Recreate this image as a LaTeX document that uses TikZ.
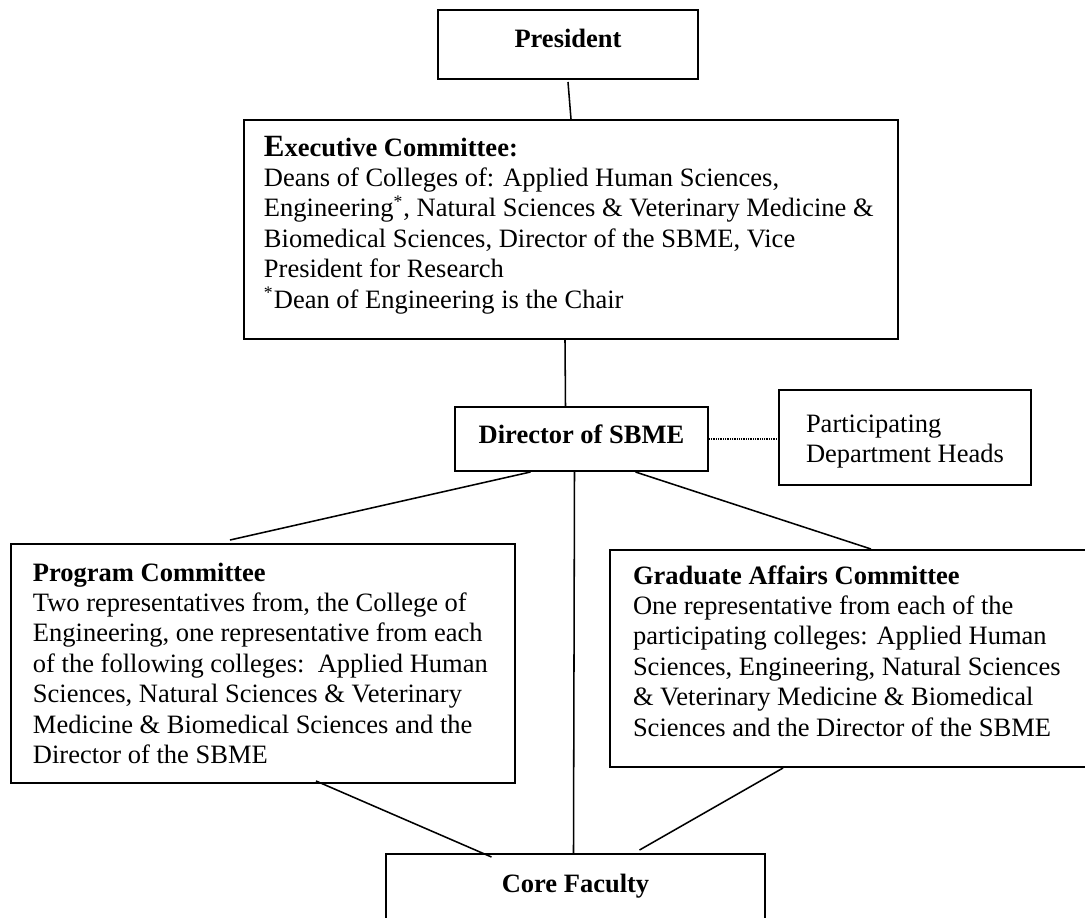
\documentclass[tikz,border=0pt]{standalone}
\usepackage{fontspec}
\setmainfont{Liberation Serif}
\usetikzlibrary{calc}
\newlength\pxu
\setlength\pxu{0.45283pt}

\begin{document}
\begin{tikzpicture}[
    x=0.45283pt, y=-0.45283pt,
    font=\fontsize{12}{13.8}\selectfont,
    box/.style={draw, line width=0.9pt, inner sep=0pt, anchor=north west},
    link/.style={line width=0.7pt},
    dotlink/.style={line width=0.6pt, dash pattern=on 0.4pt off 0.4pt}
]
\useasboundingbox (0,0) rectangle (1085,917);

% Boxes
\node[box] (pres) at (437,9) {\parbox[c][69\pxu][t]{260\pxu}{\centering\rule{0pt}{38\pxu}\textbf{President}}};

\node[box] (exec) at (243,119) {\parbox[c][219\pxu][t]{654\pxu}{\leftskip=20\pxu
  \rule{0pt}{36\pxu}\textbf{{\fontsize{14}{16}\selectfont E}xecutive Committee:}\\
  Deans of Colleges of: Applied Human Sciences,\\
  Engineering\textsuperscript{*}, Natural Sciences \& Veterinary Medicine \&\\
  Biomedical Sciences, Director of the SBME, Vice\\
  President for Research\\
  \textsuperscript{*}Dean of Engineering is the Chair}};

\node[box] (dir) at (454,406) {\parbox[c][64\pxu][t]{253\pxu}{\centering\rule{0pt}{36\pxu}\textbf{Director of SBME}}};

\node[box] (heads) at (778,389) {\parbox[c][95\pxu][t]{252\pxu}{\leftskip=27\pxu
  \rule{0pt}{42\pxu}Participating\\
  Department Heads}};

\node[box] (prog) at (10,543) {\parbox[c][239\pxu][t]{504\pxu}{\leftskip=22\pxu
  \rule{0pt}{37\pxu}\textbf{Program Committee}\\
  Two representatives from, the College of\\
  Engineering, one representative from each\\
  of the following colleges:\ \ Applied Human\\
  Sciences, Natural Sciences \& Veterinary\\
  Medicine \& Biomedical Sciences and the\\
  Director of the SBME}};

\node[box] (grad) at (609,549) {\parbox[c][217\pxu][t]{482\pxu}{\leftskip=23\pxu
  \rule{0pt}{34\pxu}\textbf{Graduate Affairs Committee}\\
  One representative from each of the\\
  participating colleges: Applied Human\\
  Sciences, Engineering, Natural Sciences\\
  \& Veterinary Medicine \& Biomedical\\
  Sciences and the Director of the SBME}};

\node[box] (core) at (385,853) {\parbox[c][100\pxu][t]{379\pxu}{\centering\rule{0pt}{38\pxu}\textbf{Core Faculty}}};

% Connections
\draw[link] ($(pres.south)+(0,2)$) -- (exec.north);
\draw[link] ($(exec.south)+(-6,0)$) -- ($(dir.north)+(-16,0)$);
\draw[dotlink] (dir.east) -- (dir.east -| heads.west);

\draw[link] ($(dir.south)+(-51,0)$) -- ($(prog.north)+(-33,-3)$);
\draw[link] ($(dir.south)+(54,0)$) -- ($(grad.north)+(20,0)$);
\draw[link] ($(dir.south)+(-7,0)$) -- ($(core.north)+(-2,0)$);

\draw[link] ($(prog.south)+(53,-3)$) -- ($(core.north)+(-84,4)$);
\draw[link] ($(grad.south)+(-68,0)$) -- ($(core.north)+(64,-3)$);

\end{tikzpicture}
\end{document}
